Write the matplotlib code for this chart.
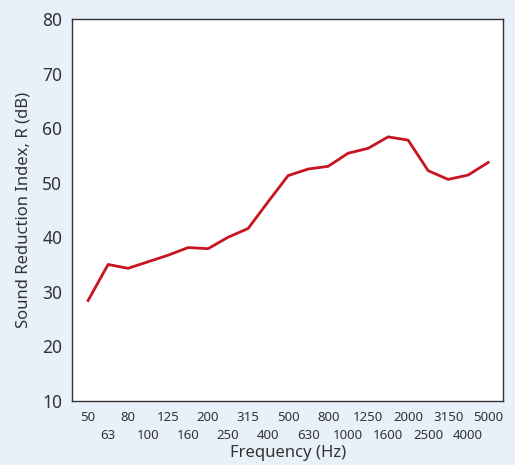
import matplotlib
matplotlib.use("Agg")
import matplotlib.pyplot as plt

plt.rcParams['font.family'] = ['Noto Sans', 'DejaVu Sans']

# frequências de terço de oitava e índice de redução sonora
freqs = ["50", "63", "80", "100", "125", "160", "200", "250", "315", "400",
         "500", "630", "800", "1000", "1250", "1600", "2000", "2500", "3150",
         "4000", "5000"]
R = [28.4, 35.0, 34.3, 35.5, 36.7, 38.1, 37.9, 40.0, 41.6, 46.5,
     51.3, 52.5, 53.0, 55.4, 56.3, 58.4, 57.8, 52.2, 50.6, 51.4, 53.7]
yticks = [10, 20, 30, 40, 50, 60, 70, 80]

bg = "#e8f1fa"
txt = "#333333"

fig = plt.figure(figsize=(5.15, 4.65), dpi=100, facecolor=bg)
ax = fig.add_axes([0.140, 0.138, 0.837, 0.821])

x = list(range(len(freqs)))
ax.plot(x, R, color="#c8141e", lw=2)

ax.set_xlim(-0.8, len(freqs) - 0.25)
ax.set_ylim(10, 80)
ax.set_yticks(yticks)

# rótulos alternados em duas linhas: pares em cima, ímpares embaixo
ax.set_xticks(x[0::2])
ax.set_xticklabels(freqs[0::2])
ax.set_xticks(x[1::2], minor=True)
ax.set_xticklabels(freqs[1::2], minor=True)

ax.tick_params(axis="y", length=0, pad=7, labelsize=12.5, labelcolor=txt)
ax.tick_params(axis="x", which="major", length=0, pad=7.5, labelsize=9.5, labelcolor=txt)
ax.tick_params(axis="x", which="minor", length=0, pad=20.5, labelsize=9.5, labelcolor=txt)

for s in ax.spines.values():
    s.set_color("#333333")
    s.set_linewidth(1)

ax.set_xlabel("Frequency (Hz)", fontsize=12, color=txt, labelpad=2)
ax.set_ylabel("Sound Reduction Index, R (dB)", fontsize=12, color=txt, labelpad=8)

fig.savefig("out.png", dpi=100, facecolor=bg)
